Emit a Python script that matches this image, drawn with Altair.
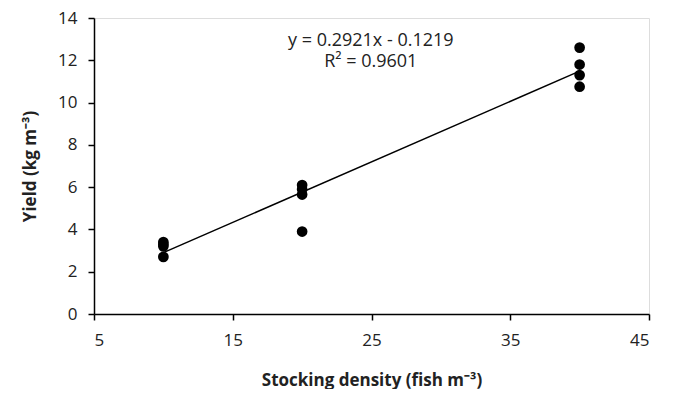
import altair as alt
import pandas as pd

density = [10, 10, 10, 10, 20, 20, 20, 20, 40, 40, 40, 40]
yield_kg = [3.4, 3.3, 3.2, 2.7, 6.1, 5.9, 5.65, 3.9, 12.6, 11.8, 11.3, 10.75]

eq_x = [24.95, 24.95]
eq_y = [12.92, 11.9]
eq_text = ["y = 0.2921x - 0.1219", "R² = 0.9601"]

df = pd.DataFrame({"density": density, "yield": yield_kg})
ann = pd.DataFrame({"x": eq_x, "y": eq_y, "t": eq_text})

FONT = "Open Sans"

xscale = alt.Scale(domain=[5, 45], nice=False, zero=False)
yscale = alt.Scale(domain=[0, 14], nice=False)

xaxis = alt.Axis(values=[5, 15, 25, 35, 45], title="Stocking density (fish m⁻³)",
                 grid=False, domainColor="black", tickColor="black", labelColor="#222",
                 labelFontSize=17, titleFontSize=17, titleFontWeight="bold",
                 labelPadding=12, titlePadding=24, tickSize=6, labelFont=FONT, titleFont=FONT,
                 titleColor="#222", domainWidth=1.5, tickWidth=1.5)
yaxis = alt.Axis(values=list(range(0, 15, 2)), title="Yield (kg m⁻³)",
                 grid=False, domainColor="black", tickColor="black", labelColor="#222",
                 labelFontSize=17, titleFontSize=17, titleFontWeight="bold",
                 labelPadding=11, titlePadding=18, tickSize=6, labelFont=FONT, titleFont=FONT,
                 titleColor="#222", domainWidth=1.5, tickWidth=1.5)

base = alt.Chart(df)

pts = base.mark_circle(size=115, color="black", opacity=1).encode(
    x=alt.X("density:Q", scale=xscale, axis=xaxis),
    y=alt.Y("yield:Q", scale=yscale, axis=yaxis),
)

line = base.transform_regression("density", "yield").mark_line(color="black", strokeWidth=1.5).encode(
    x=alt.X("density:Q", scale=xscale),
    y=alt.Y("yield:Q", scale=yscale),
)

txt = alt.Chart(ann).mark_text(fontSize=18, font=FONT, color="#222").encode(
    x=alt.X("x:Q", scale=xscale),
    y=alt.Y("y:Q", scale=yscale),
    text="t:N",
)

chart = alt.layer(line, pts, txt).properties(
    width=555, height=296,
    autosize=alt.AutoSizeParams(type="none"),
    padding={"left": 86, "top": 10, "right": 17, "bottom": 75},
).configure_view(stroke=None).configure(background="white")

chart.save("out.html", embed_options={"renderer": "svg", "actions": False})
